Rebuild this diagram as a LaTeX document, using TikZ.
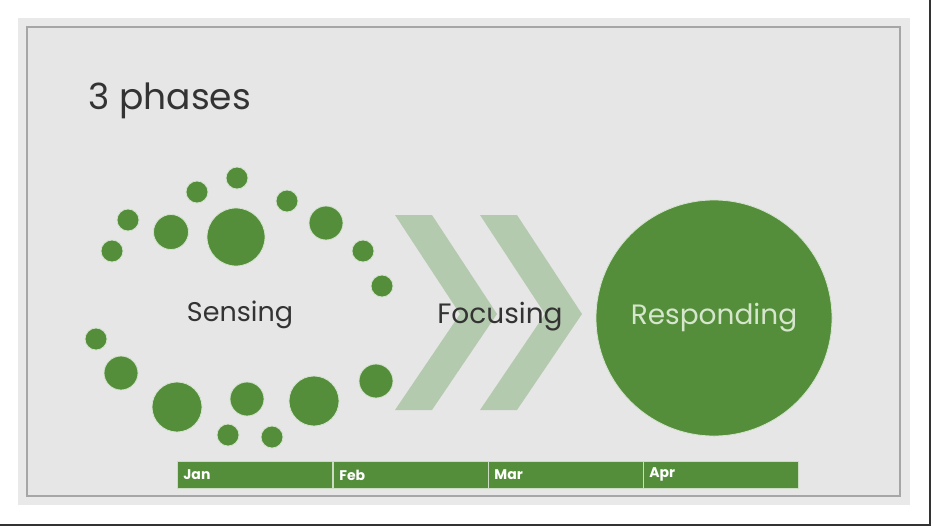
\documentclass[tikz,border=0pt]{standalone}
\usepackage{fontspec}
\setmainfont{Poppins}
\definecolor{leaf}{RGB}{84,142,58}
\definecolor{sage}{RGB}{180,202,174}
\definecolor{slide}{RGB}{230,230,230}
\definecolor{ink}{RGB}{51,51,51}
\definecolor{mint}{RGB}{214,230,205}
\tikzset{
  dot/.style={circle, fill=leaf, draw=white!75!leaf, line width=0.8pt, inner sep=0pt, minimum size=#1},
  label/.style={text=ink, font=\fontsize{27}{31}\selectfont},
  cell/.style={rectangle, fill=leaf, draw=white!70!leaf, line width=0.8pt, anchor=north west,
    minimum height=27pt, inner xsep=6pt, text width=143pt, align=left, text=white,
    font=\bfseries\fontsize{14}{16}\selectfont},
}
\begin{document}
\begin{tikzpicture}[x=1pt, y=-1pt]
                    \useasboundingbox (0,0) rectangle (933,528);
                    % Slide frame
                    \fill[white] (0,0) rectangle (933,528);
                    \fill[slide!90!white] (18,18) rectangle (910,505);
                    \draw[gray!70, fill=slide, line width=1.5pt] (27,27) rectangle (900,496);
                    \draw[black!80, line width=1.5pt] (0,525) -- (930,525) -- (930,0);
                    % Title
                    \node[label, anchor=west, font=\fontsize{36}{40}\selectfont] (title) at (85,101) {3 phases};
                    % Sensing dots, upper arc
                    \node[dot=22pt] (u1) at (112,251) {};
                    \node[dot=22pt] (u2) at (128,220) {};
                    \node[dot=35pt] (u3) at (171,232) {};
                    \node[dot=22pt] (u4) at (197,192) {};
                    \node[dot=58pt] (u5) at (236,237) {};
                    \node[dot=22pt] (u6) at (237,178) {};
                    \node[dot=22pt] (u7) at (287,201) {};
                    \node[dot=34pt] (u8) at (326,223) {};
                    \node[dot=22pt] (u9) at (363,251) {};
                    \node[dot=22pt] (u10) at (382,286) {};
                    % Sensing dots, lower arc
                    \node[dot=22pt] (l1) at (96,339) {};
                    \node[dot=34pt] (l2) at (121,373) {};
                    \node[dot=50pt] (l3) at (177,407) {};
                    \node[dot=22pt] (l4) at (228,435) {};
                    \node[dot=34pt] (l5) at (247,399) {};
                    \node[dot=22pt] (l6) at (272,437) {};
                    \node[dot=50pt] (l7) at (314,401) {};
                    \node[dot=34pt] (l8) at (376,381) {};
                    \node[label, font=\fontsize{27}{31}\selectfont] (sensing) at (240,315) {Sensing};
                    % Chevrons
                    \fill[sage] (395,215) -- (432,215) -- (497,314) -- (432,410) -- (395,410) -- (460,314) -- cycle;
                    \fill[sage] (480,215) -- (517,215) -- (582,314) -- (517,410) -- (480,410) -- (545,314) -- cycle;
                    \node[label, font=\fontsize{28}{32}\selectfont] (focusing) at (500,317) {Focusing};
                    % Responding
                    \node[circle, fill=leaf, draw=white!75!leaf, line width=0.8pt, minimum size=236pt,
                      text=mint, font=\fontsize{28}{32}\selectfont] (responding) at (714,318) {Responding};
                    % Months
                    \node[cell] (jan) at (177,461) {Jan};
                    \node[cell] (feb) at (333,461) {Feb};
                    \node[cell] (mar) at (488,461) {Mar};
                    \node[cell] (apr) at (643,461) {Apr};
\end{tikzpicture}
\end{document}
